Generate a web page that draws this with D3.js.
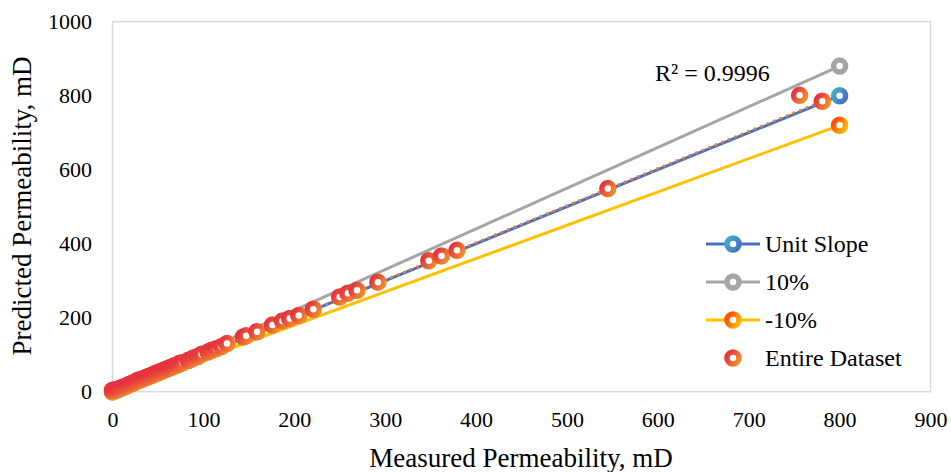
<!DOCTYPE html>
<html>
<head>
<meta charset="utf-8">
<script src="https://cdn.jsdelivr.net/npm/d3@7"></script>
<style>
  html, body { margin: 0; padding: 0; background: #fff; }
  svg { display: block; }
  text { font-family: "Liberation Serif", "Times New Roman", serif; fill: #000; }
</style>
</head>
<body>
<svg id="chart" width="951" height="472"></svg>
<script>
// Measured vs predicted permeability (mD)
const measured = [
  0, 2, 4, 6, 8, 10, 12, 14, 17, 19, 21, 23, 25, 27, 28, 30, 32, 34, 36, 38,
  40, 42, 44, 46, 48, 50, 52, 54, 56, 58, 60, 62, 64, 66, 68, 72, 74, 77, 83,
  85, 89, 94, 98, 105, 109, 114, 120, 126, 144, 147, 159, 176, 187, 195, 205,
  221, 250, 259, 269, 292, 348, 362, 379, 545, 756, 781
];
const predicted = [
  4, 3, 6, 5, 9, 10, 13, 14, 18, 20, 22, 24, 26, 29, 31, 32, 33, 36, 38, 39,
  42, 43, 45, 48, 50, 51, 54, 55, 58, 59, 62, 63, 66, 67, 70, 73, 77, 78, 84,
  86, 91, 95, 101, 107, 112, 116, 122, 130, 148, 151, 162, 180, 191, 198, 206,
  223, 256, 266, 274, 296, 354, 367, 382, 549, 801, 785
];

// Linear trendline of the dataset: [slope, intercept]
const trendFit = [1.004, 0.8];
const r2Label = "R² = 0.9996";

// Reference lines: unit slope and +/-10 % bounds
const refX = [0, 800];
const unitSlope = [0, 800];
const plus10 = [0, 880];
const minus10 = [0, 720];

const xTicks = [0, 100, 200, 300, 400, 500, 600, 700, 800, 900];
const yTicks = [0, 200, 400, 600, 800, 1000];
const legendLabels = ["Unit Slope", "10%", "-10%", "Entire Dataset"];
const xTitle = "Measured Permeability, mD";
const yTitle = "Predicted Permeability, mD";

const svg = d3.select("#chart");
const x = d3.scaleLinear().domain([0, 900]).range([112.5, 930.5]);
const y = d3.scaleLinear().domain([0, 1000]).range([391.7, 21.7]);

// Gradients for the ring markers
const defs = svg.append("defs");
function grad(id, c1, c2) {
  const g = defs.append("linearGradient").attr("id", id)
    .attr("x1", "0%").attr("y1", "20%").attr("x2", "100%").attr("y2", "80%");
  g.append("stop").attr("offset", "0%").attr("stop-color", c1);
  g.append("stop").attr("offset", "100%").attr("stop-color", c2);
}
grad("gUnit", "#47AACB", "#4472C4");
grad("gMinus", "#FF4A00", "#FFB800");
grad("gData", "#E5323F", "#F08A2B");

// Plot area frame
svg.append("rect")
  .attr("x", x(0)).attr("y", y(1000))
  .attr("width", x(900) - x(0)).attr("height", y(0) - y(1000))
  .attr("fill", "none").attr("stroke", "#D9D9D9").attr("stroke-width", 1.5);

// Axes (labels only)
const tickFont = 22;
const xAxis = d3.axisBottom(x).tickValues(xTicks).tickFormat(d3.format("d"))
  .tickSize(0).tickPadding(0);
svg.append("g").attr("transform", `translate(0, ${y(0) + 20})`).call(xAxis)
  .attr("font-family", null).attr("font-size", tickFont)
  .call(g => g.select(".domain").remove())
  .selectAll("text").attr("fill", "#000").attr("dy", "0.71em");

const yAxis = d3.axisLeft(y).tickValues(yTicks).tickFormat(d3.format("d"))
  .tickSize(0).tickPadding(0);
svg.append("g").attr("transform", `translate(92, 0)`).call(yAxis)
  .attr("font-family", null).attr("font-size", tickFont)
  .call(g => g.select(".domain").remove())
  .selectAll("text").attr("fill", "#000");

// Axis titles
svg.append("text").attr("x", 521).attr("y", 467)
  .attr("text-anchor", "middle").attr("font-size", 27).text(xTitle);
svg.append("text")
  .attr("transform", `translate(31, 206) rotate(-90)`)
  .attr("text-anchor", "middle").attr("font-size", 27).text(yTitle);

// Reference lines
const refSeries = [
  { vals: unitSlope, color: "#4472C4", marker: "url(#gUnit)" },
  { vals: plus10, color: "#A5A5A5", marker: "#A5A5A5" },
  { vals: minus10, color: "#FFC000", marker: "url(#gMinus)" }
];
const ringR = 6, ringW = 5.5;
refSeries.forEach(s => {
  svg.append("line")
    .attr("x1", x(refX[0])).attr("y1", y(s.vals[0]))
    .attr("x2", x(refX[1])).attr("y2", y(s.vals[1]))
    .attr("stroke", s.color).attr("stroke-width", 3);
});

// Trendline over the measured range
const xMin = d3.min(measured), xMax = d3.max(measured);
const fit = v => trendFit[0] * v + trendFit[1];
svg.append("line")
  .attr("x1", x(xMin)).attr("y1", y(fit(xMin)))
  .attr("x2", x(xMax)).attr("y2", y(fit(xMax)))
  .attr("stroke", "#ED7D31").attr("stroke-width", 3)
  .attr("stroke-linecap", "round").attr("stroke-dasharray", "0.01 7");

// Reference line end markers
refSeries.forEach(s => {
  svg.selectAll(null).data(refX).join("circle")
    .attr("cx", (d) => x(d)).attr("cy", (d, i) => y(s.vals[i]))
    .attr("r", ringR).attr("fill", "#fff")
    .attr("stroke", s.marker).attr("stroke-width", ringW);
});

// Dataset markers
svg.append("g").selectAll("circle").data(measured).join("circle")
  .attr("cx", d => x(d)).attr("cy", (d, i) => y(predicted[i]))
  .attr("r", ringR).attr("fill", "#fff")
  .attr("stroke", "url(#gData)").attr("stroke-width", ringW);

// R² annotation
svg.append("text").attr("x", 655).attr("y", 81)
  .attr("font-size", 24).text(r2Label);

// Legend
const legendFont = 24;
const legend = svg.append("g");
const legendItems = [
  { label: legendLabels[0], line: "#4472C4", marker: "url(#gUnit)" },
  { label: legendLabels[1], line: "#A5A5A5", marker: "#A5A5A5" },
  { label: legendLabels[2], line: "#FFC000", marker: "url(#gMinus)" },
  { label: legendLabels[3], line: null, marker: "url(#gData)" }
];
legendItems.forEach((it, i) => {
  const cy = 244 + i * 38;
  if (it.line) {
    legend.append("line").attr("x1", 706).attr("x2", 760)
      .attr("y1", cy).attr("y2", cy)
      .attr("stroke", it.line).attr("stroke-width", 3);
  }
  legend.append("circle").attr("cx", 733).attr("cy", cy)
    .attr("r", ringR).attr("fill", "#fff")
    .attr("stroke", it.marker).attr("stroke-width", ringW);
  legend.append("text").attr("x", 765).attr("y", cy)
    .attr("dy", "0.35em").attr("font-size", legendFont).text(it.label);
});
</script>
</body>
</html>
